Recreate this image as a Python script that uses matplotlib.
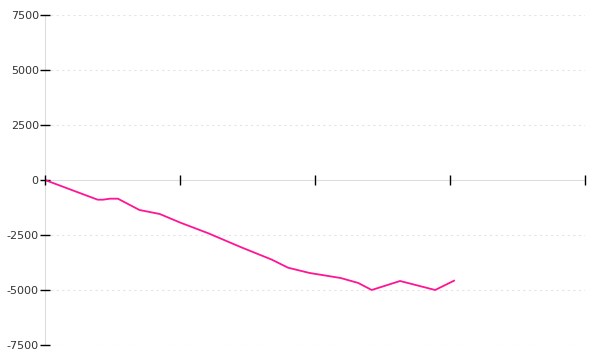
import matplotlib
matplotlib.use("Agg")
import matplotlib.pyplot as plt

plt.rcParams["axes.unicode_minus"] = False

# x positions on a 0..40 scale (ticks every 10), y values
x_vals = [0, 3.9, 4.3, 4.8, 5.4, 7.0, 8.5, 10.0, 12.1, 14.5, 16.8,
          18.0, 19.6, 21.9, 23.2, 24.2, 26.3, 28.9, 30.3]
y_vals = [0, -895, -895, -850, -850, -1364, -1545, -1932, -2423, -3050, -3620,
          -3986, -4227, -4455, -4680, -5000, -4591, -5000, -4577]

x_ticks = [0, 10, 20, 30, 40]
y_ticks = [-7500, -5000, -2500, 0, 2500, 5000, 7500]

fig = plt.figure(figsize=(6, 3.6), dpi=100)
ax = fig.add_axes([0.075, 0.0417, 0.9, 0.9166])

ax.plot(x_vals, y_vals, color="#ff1493", linewidth=1.3, zorder=2)

ax.set_xlim(0, 40)
ax.set_ylim(-7500, 7500)
ax.set_xticks(x_ticks)
ax.set_xticklabels([])
ax.set_yticks(y_ticks)
ax.set_yticklabels([str(v) for v in y_ticks])

# dotted horizontal grid, skip the zero line (that is the x axis)
for v in y_ticks:
    if v != 0:
        ax.axhline(v, color="#e4e4e4", linewidth=0.8, linestyle=(0, (2, 3)), zorder=0)

ax.spines["top"].set_visible(False)
ax.spines["right"].set_visible(False)
ax.spines["left"].set_color("#dddddd")
ax.spines["bottom"].set_position(("data", 0))
ax.spines["bottom"].set_color("#dddddd")
for sp in ax.spines.values():
    sp.set_zorder(1)

ax.tick_params(axis="y", direction="inout", length=7, width=1, color="black",
               labelsize=8, labelcolor="#333333", pad=1)
ax.tick_params(axis="x", direction="inout", length=6.5, width=1, color="black")
ax.xaxis.set_zorder(3)

fig.savefig("out.png", dpi=100)
